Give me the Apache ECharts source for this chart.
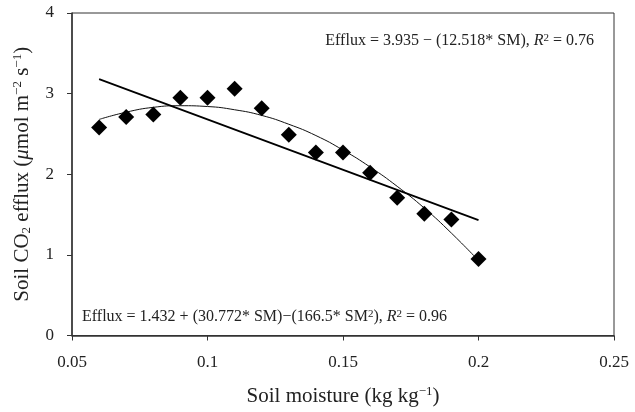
<!DOCTYPE html>
<html>
<head>
<meta charset="utf-8">
<script src="https://cdn.jsdelivr.net/npm/echarts@6/dist/echarts.min.js"></script>
<style>html,body{margin:0;padding:0;background:#fff}#c{width:635px;height:412px}</style>
</head>
<body>
<div id="c"></div>
<script>
// Observed data
const soilMoisture = [0.06, 0.07, 0.08, 0.09, 0.10, 0.11, 0.12, 0.13, 0.14, 0.15, 0.16, 0.17, 0.18, 0.19, 0.20];
const efflux = [2.58, 2.71, 2.74, 2.95, 2.95, 3.06, 2.82, 2.49, 2.27, 2.27, 2.02, 1.71, 1.51, 1.44, 0.95];
// Polynomial trendline values read at each moisture value
const polyTrend = [2.68, 2.77, 2.83, 2.85, 2.84, 2.80, 2.73, 2.62, 2.48, 2.30, 2.09, 1.85, 1.58, 1.27, 0.93];
// Linear trendline endpoints
const linX = [0.06, 0.20];
const linY = [3.18, 1.43];
const xTicks = ['0.05', '0.1', '0.15', '0.2', '0.25'];
const yTicks = ['0', '1', '2', '3', '4'];

const FONT = '"Liberation Serif", "DejaVu Serif", serif';
const chart = echarts.init(document.getElementById('c'));
const supStyle = { fontSize: 13, fontFamily: FONT, color: '#222', verticalAlign: 'top', lineHeight: 14, padding: [0, 0, 8, 0] };
const subStyle = { fontSize: 13, fontFamily: FONT, color: '#222', verticalAlign: 'bottom', lineHeight: 14, padding: [8, 0, 0, 0] };
const annRich = {
  sup: { fontSize: 11, fontFamily: FONT, fill: '#222', verticalAlign: 'top', padding: [0, 0, 5, 0] },
  it: { fontSize: 16, fontFamily: FONT, fontStyle: 'italic', fill: '#222' },
  n: { fontSize: 16, fontFamily: FONT, fill: '#222' }
};
chart.setOption({
  animation: false,
  backgroundColor: '#fff',
  grid: { left: 72, right: 21, top: 13, bottom: 75, show: true, borderColor: '#333', borderWidth: 1 },
  xAxis: {
    type: 'value', min: 0.05, max: 0.25, interval: 0.05,
    axisLine: { lineStyle: { color: '#333', width: 1.5 } },
    axisTick: { show: true, length: 5, lineStyle: { color: '#333' } },
    splitLine: { show: false },
    axisLabel: { color: '#222', fontSize: 17, fontFamily: FONT, margin: 19,
      formatter: function (v) { return xTicks[Math.round((v - 0.05) / 0.05)]; } },
    name: '{n|Soil moisture (kg kg}{sup|−1}{n|)}',
    nameLocation: 'middle', nameGap: 50,
    nameTextStyle: { fontFamily: FONT, fontSize: 21, color: '#222',
      rich: { n: { fontSize: 21, fontFamily: FONT, color: '#222', lineHeight: 22 }, sup: supStyle } }
  },
  yAxis: {
    type: 'value', min: 0, max: 4, interval: 1,
    axisLine: { show: true, lineStyle: { color: '#333', width: 1.5 } },
    axisTick: { show: true, length: 5, lineStyle: { color: '#333' } },
    splitLine: { show: false },
    axisLabel: { color: '#222', fontSize: 17, fontFamily: FONT, margin: 18,
      formatter: function (v) { return yTicks[Math.round(v)]; } },
    name: '{n|Soil CO}{sub|2}{n| efflux (}{i|μ}{n|mol m}{sup|−2}{n| s}{sup|−1}{n|)}',
    nameLocation: 'middle', nameGap: 39,
    nameTextStyle: { fontFamily: FONT, fontSize: 21, color: '#222',
      rich: {
        n: { fontSize: 21, fontFamily: FONT, color: '#222', lineHeight: 22 },
        i: { fontSize: 21, fontFamily: FONT, fontStyle: 'italic', color: '#222', lineHeight: 22 },
        sup: supStyle, sub: subStyle } }
  },
  series: [
    {
      type: 'line', data: soilMoisture.map((x, i) => [x, polyTrend[i]]),
      smooth: true, showSymbol: false, symbol: 'none',
      lineStyle: { color: '#111', width: 1 }, z: 2
    },
    {
      type: 'line', data: linX.map((x, i) => [x, linY[i]]),
      showSymbol: false, symbol: 'none',
      lineStyle: { color: '#000', width: 1.8 }, z: 3
    },
    {
      type: 'scatter', data: soilMoisture.map((x, i) => [x, efflux[i]]),
      symbol: 'diamond', symbolSize: 16,
      itemStyle: { color: '#000', opacity: 1 }, z: 4
    }
  ],
  graphic: [
    {
      type: 'text', right: 41, top: 33,
      style: {
        text: '{n|Efflux = 3.935 − (12.518*}{n| SM), }{it|R}{sup|2}{n| = 0.76}',
        rich: annRich
      }
    },
    {
      type: 'text', left: 82, top: 309,
      style: {
        text: '{n|Efflux = 1.432 + (30.772*}{n| SM)−(166.5*}{n| SM}{sup|2}{n|), }{it|R}{sup|2}{n| = 0.96}',
        rich: annRich
      }
    }
  ]
});
</script>
</body>
</html>
